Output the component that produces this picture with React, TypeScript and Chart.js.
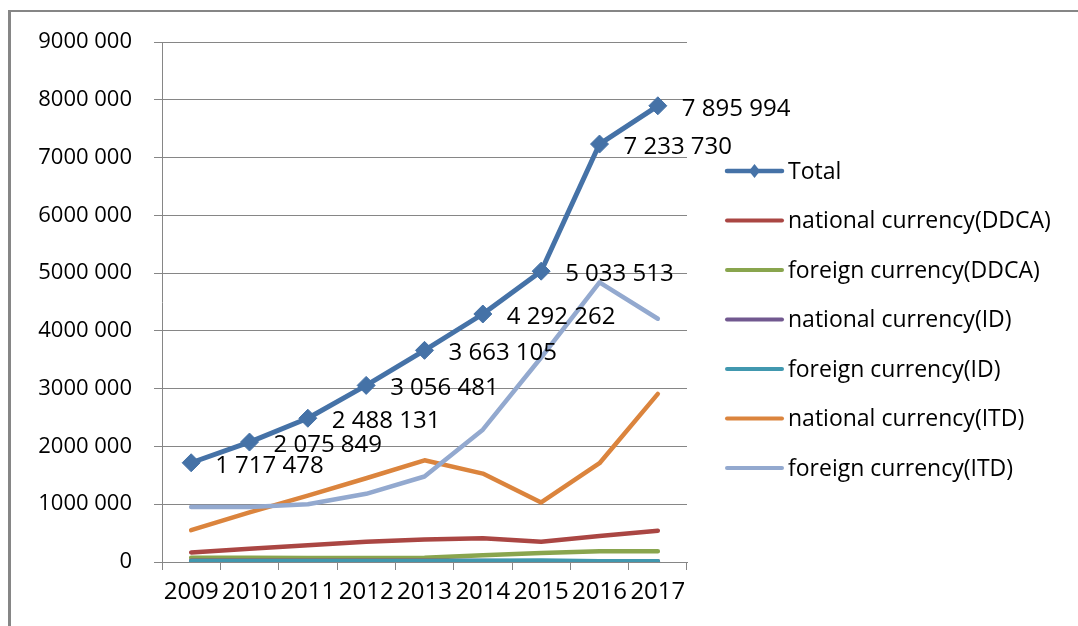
import React, { useEffect, useRef } from "react";
import { Chart, registerables } from "chart.js";

Chart.register(...registerables);

const years = ["2009", "2010", "2011", "2012", "2013", "2014", "2015", "2016", "2017"];
const totalValues = [1717478, 2075849, 2488131, 3056481, 3663105, 4292262, 5033513, 7233730, 7895994];
const nationalDDCA = [165000, 230000, 290000, 350000, 390000, 410000, 350000, 450000, 540000];
const foreignDDCA = [75000, 72000, 70000, 70000, 72000, 115000, 157000, 186000, 186000];
const nationalID = [20000, 20000, 20000, 20000, 20000, 18000, 10000, 12000, 12000];
const foreignID = [15000, 15000, 15000, 15000, 15000, 20000, 25000, 15000, 15000];
const nationalITD = [550000, 860000, 1150000, 1450000, 1760000, 1530000, 1030000, 1710000, 2910000];
const foreignITD = [950000, 950000, 1000000, 1180000, 1480000, 2290000, 3540000, 4840000, 4210000];
const seriesNames = [
  "Total",
  "national currency(DDCA)",
  "foreign currency(DDCA)",
  "national currency(ID)",
  "foreign currency(ID)",
  "national currency(ITD)",
  "foreign currency(ITD)",
];
const seriesColors = ["#4572A7", "#AA4643", "#89A54E", "#71588F", "#4198AF", "#DB843D", "#93A9CF"];
const yTickLabels = [
  "0",
  "1000 000",
  "2000 000",
  "3000 000",
  "4000 000",
  "5000 000",
  "6000 000",
  "7000 000",
  "8000 000",
  "9000 000",
];

const FONT = "'Open Sans', 'DejaVu Sans', sans-serif";

const fmt = (v: number) => v.toString().replace(/\B(?=(\d{3})+(?!\d))/g, " ");

const framePlugin = {
  id: "frame",
  beforeDraw(chart: any) {
    const ctx = chart.ctx;
    ctx.save();
    ctx.fillStyle = "#ffffff";
    ctx.fillRect(0, 0, chart.width, chart.height);
    ctx.strokeStyle = "#868686";
    ctx.lineWidth = 2;
    ctx.beginPath();
    ctx.moveTo(8, 11);
    ctx.lineTo(chart.width, 11);
    ctx.stroke();
    ctx.lineWidth = 3;
    ctx.beginPath();
    ctx.moveTo(9.5, 10);
    ctx.lineTo(9.5, chart.height);
    ctx.stroke();
    ctx.restore();
  },
};

const labelPlugin = {
  id: "totalLabels",
  afterDatasetsDraw(chart: any) {
    const ctx = chart.ctx;
    const meta = chart.getDatasetMeta(0);
    ctx.save();
    ctx.font = `24px ${FONT}`;
    ctx.fillStyle = "#000000";
    ctx.textAlign = "left";
    ctx.textBaseline = "middle";
    meta.data.forEach((pt: any, i: number) => {
      ctx.fillText(fmt(totalValues[i]), pt.x + 24, pt.y + 3);
    });
    ctx.restore();
  },
};

const legendPlugin = {
  id: "customLegend",
  afterDraw(chart: any) {
    const ctx = chart.ctx;
    ctx.save();
    ctx.font = `23px ${FONT}`;
    ctx.textAlign = "left";
    ctx.textBaseline = "middle";
    const x0 = 727;
    const x1 = 782;
    seriesNames.forEach((name, i) => {
      const y = 171 + i * 49.5;
      ctx.strokeStyle = seriesColors[i];
      ctx.lineWidth = i === 0 ? 4.5 : 4;
      ctx.lineCap = "round";
      ctx.beginPath();
      ctx.moveTo(x0, y);
      ctx.lineTo(x1, y);
      ctx.stroke();
      if (i === 0) {
        const cx = (x0 + x1) / 2;
        const r = 7;
        ctx.fillStyle = seriesColors[0];
        ctx.beginPath();
        ctx.moveTo(cx, y - r);
        ctx.lineTo(cx + r * 0.8, y);
        ctx.lineTo(cx, y + r);
        ctx.lineTo(cx - r * 0.8, y);
        ctx.closePath();
        ctx.fill();
      }
      ctx.fillStyle = "#000000";
      ctx.fillText(name, 788, y + 1);
    });
    ctx.restore();
  },
};

export default function App() {
  const ref = useRef<HTMLCanvasElement | null>(null);

  useEffect(() => {
    if (!ref.current) return;
    const allSeries = [totalValues, nationalDDCA, foreignDDCA, nationalID, foreignID, nationalITD, foreignITD];
    const chart = new Chart(ref.current, {
      type: "line",
      data: {
        labels: years,
        datasets: allSeries.map((vals, i) => ({
          label: seriesNames[i],
          data: vals,
          order: 6 - i,
          borderColor: seriesColors[i],
          backgroundColor: seriesColors[i],
          borderWidth: i === 0 ? 5 : 4.5,
          tension: 0,
          fill: false,
          pointStyle: "rectRot",
          pointRadius: i === 0 ? 9 : 0,
          pointHoverRadius: i === 0 ? 9 : 0,
          pointBorderWidth: 1,
          pointBorderColor: seriesColors[i],
          pointBackgroundColor: seriesColors[i],
          borderJoinStyle: "round" as const,
          borderCapStyle: "round" as const,
        })),
      },
      options: {
        responsive: false,
        animation: false,
        devicePixelRatio: 1,
        layout: { padding: { left: 0, right: 391, top: 42, bottom: 0 } },
        plugins: {
          legend: { display: false },
          tooltip: { enabled: false },
          title: { display: false },
        },
        scales: {
          x: {
            offset: true,
            grid: {
              display: true,
              offset: true,
              drawOnChartArea: false,
              drawTicks: true,
              tickLength: 8,
              color: "#868686",
              lineWidth: 1,
            },
            border: { display: true, color: "#868686", width: 1 },
            ticks: {
              color: "#000000",
              font: { family: FONT, size: 24 },
              padding: 8,
              maxRotation: 0,
              autoSkip: false,
            },
            afterFit: (s: any) => {
              s.height = 64;
            },
          },
          y: {
            min: 0,
            max: 9000000,
            grid: {
              color: "#868686",
              lineWidth: 1,
              drawTicks: true,
              tickLength: 8,
            },
            border: { display: true, color: "#868686", width: 1 },
            ticks: {
              stepSize: 1000000,
              color: "#000000",
              font: { family: FONT, size: 22 },
              padding: 22,
              callback: (_v: any, idx: number) => yTickLabels[idx],
            },
            afterFit: (s: any) => {
              s.width = 162;
            },
          },
        },
      },
      plugins: [framePlugin, labelPlugin, legendPlugin],
    });
    return () => chart.destroy();
  }, []);

  return (
    <div style={{ position: "fixed", left: 0, top: 0, width: 1078, height: 626, background: "#fff" }}>
      <canvas ref={ref} width={1078} height={626} style={{ display: "block", width: 1078, height: 626 }} />
    </div>
  );
}
